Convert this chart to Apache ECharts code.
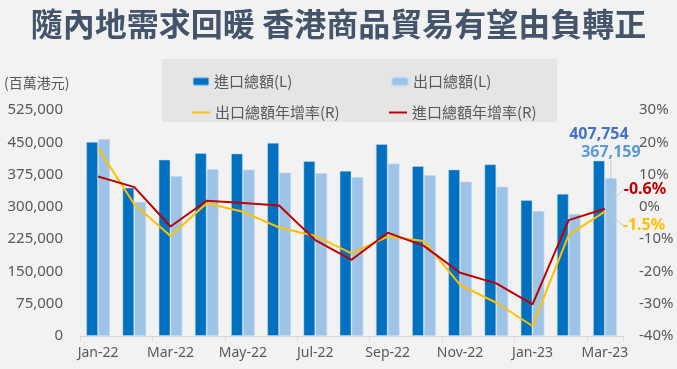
<!DOCTYPE html>
<html><head><meta charset="utf-8">
<script src="https://cdn.jsdelivr.net/npm/echarts@6/dist/echarts.min.js"></script>
<style>html,body{margin:0;padding:0;background:#f2f2f2}#c{width:677px;height:369px}</style>
</head><body><div id="c"></div>
<script>
const categories = ['Jan-22','Feb-22','Mar-22','Apr-22','May-22','Jun-22','Jul-22','Aug-22','Sep-22','Oct-22','Nov-22','Dec-22','Jan-23','Feb-23','Mar-23'];
const importTotal = [451000,345000,410000,425000,424000,449000,406500,384000,446000,395000,387000,399000,316000,330500,407754];
const exportTotal = [457500,312000,371500,388000,387000,380000,378500,369500,401000,374000,359000,347000,290500,284000,367159];
const exportGrowth = [18.2,0.8,-9.0,1.1,-1.5,-6.4,-9.0,-14.4,-9.2,-10.6,-24.2,-29.7,-36.9,-8.7,-1.5];
const importGrowth = [9.4,6.1,-6.1,1.9,1.2,0.4,-10.3,-16.4,-8.0,-12.1,-20.4,-23.7,-30.2,-4.1,-0.6];
const leftTicks = {min:0, max:525000, interval:75000};
const rightTicks = {min:-40, max:30, interval:10};

const FONT = '"Noto Sans","Noto Sans CJK TC",sans-serif';
const CJK = '"Noto Sans CJK TC","Noto Sans",sans-serif';
const fmt = v => v.toLocaleString('en-US');
const last = categories.length - 1;

function lastLabel(arr, labelOpt) {
  return arr.map((v, i) => i === last ? {value: v, label: Object.assign({show: true}, labelOpt)} : v);
}

const chart = echarts.init(document.getElementById('c'), null, {renderer: 'canvas'});
const legendBase = {itemGap: 0, textStyle: {fontFamily: CJK, fontSize: 15, color: '#595959'}, selectedMode: false};
chart.setOption({
  backgroundColor: '#f2f2f2',
  animation: false,
  title: {text: '隨內地需求回暖 香港商品貿易有望由負轉正', left: 'center', top: 3,
    textStyle: {fontFamily: CJK, fontSize: 32, fontWeight: 'bold', color: '#44546a'}},
  graphic: [
    {type: 'rect', shape: {x: 162, y: 59, width: 395, height: 63}, style: {fill: '#e6e5e5'}, z: -1, silent: true},
    {type: 'text', left: 4, top: 76, style: {text: '(百萬港元)', fontFamily: CJK, fontSize: 14, fill: '#595959'}}
  ],
  legend: [
    Object.assign({}, legendBase, {left: 187, top: 69, data: ['進口總額(L)'], itemWidth: 16, itemHeight: 8}),
    Object.assign({}, legendBase, {left: 386, top: 69, data: ['出口總額(L)'], itemWidth: 16, itemHeight: 8}),
    Object.assign({}, legendBase, {left: 187, top: 100, data: [{name: '出口總額年增率(R)', icon: 'rect'}], itemWidth: 18, itemHeight: 2}),
    Object.assign({}, legendBase, {left: 384, top: 100, data: [{name: '進口總額年增率(R)', icon: 'rect'}], itemWidth: 18, itemHeight: 2})
  ],
  grid: {left: 80, right: 54, top: 110, bottom: 33},
  xAxis: {type: 'category', data: categories,
    axisLine: {lineStyle: {color: '#d9d9d9'}},
    axisTick: {show: true, interval: 1, length: 5, lineStyle: {color: '#d9d9d9'}},
    axisLabel: {interval: 1, margin: 10, fontFamily: FONT, fontSize: 14, color: '#595959'}},
  yAxis: [
    {type: 'value', min: leftTicks.min, max: leftTicks.max, interval: leftTicks.interval,
      splitLine: {show: false}, axisLine: {show: false},
      axisLabel: {margin: 17, fontFamily: FONT, fontSize: 15, color: '#595959', formatter: v => fmt(v)}},
    {type: 'value', min: rightTicks.min, max: rightTicks.max, interval: rightTicks.interval,
      splitLine: {show: false}, axisLine: {show: false},
      axisLabel: {margin: 16, fontFamily: FONT, fontSize: 15, color: '#595959', formatter: '{value}%'}}
  ],
  series: [
    {name: '進口總額(L)', type: 'bar', yAxisIndex: 0, barGap: '0%', barCategoryGap: '34%',
      itemStyle: {color: '#0070c0', borderColor: 'rgba(190,215,240,0.5)', borderWidth: 1},
      data: lastLabel(importTotal, {position: 'top', distance: 18, formatter: p => fmt(p.value),
        fontFamily: FONT, fontSize: 16, fontWeight: 'bold', color: '#4472c4'})},
    {name: '出口總額(L)', type: 'bar', yAxisIndex: 0,
      itemStyle: {color: '#9dc3e6', borderColor: 'rgba(190,215,240,0.6)', borderWidth: 1},
      labelLine: {show: true, lineStyle: {color: '#c8c8c8', width: 1}},
      labelLayout: {dy: -14},
      data: lastLabel(exportTotal, {position: 'top', distance: 4, formatter: p => fmt(p.value),
        fontFamily: FONT, fontSize: 16, fontWeight: 'bold', color: '#5b9bd5'})},
    {name: '出口總額年增率(R)', type: 'line', yAxisIndex: 1, symbol: 'circle', symbolSize: 0.01, showSymbol: true,
      lineStyle: {color: '#ffc000', width: 2}, itemStyle: {color: '#ffc000'},
      labelLine: {show: true, lineStyle: {color: '#c8c8c8', width: 1}},
      labelLayout: {x: 644, y: 225, align: 'center', verticalAlign: 'middle'},
      data: lastLabel(exportGrowth, {position: 'right', formatter: p => p.value + '%',
        fontFamily: FONT, fontSize: 16, fontWeight: 'bold', color: '#ffc000'})},
    {name: '進口總額年增率(R)', type: 'line', yAxisIndex: 1, symbol: 'circle', symbolSize: 0.01, showSymbol: true,
      lineStyle: {color: '#c00000', width: 2}, itemStyle: {color: '#c00000'},
      labelLine: {show: true, lineStyle: {color: '#c8c8c8', width: 1}},
      labelLayout: {x: 645, y: 189, align: 'center', verticalAlign: 'middle'},
      data: lastLabel(importGrowth, {position: 'right', formatter: p => p.value + '%',
        fontFamily: FONT, fontSize: 16, fontWeight: 'bold', color: '#c00000'})}
  ]
});
</script></body></html>
